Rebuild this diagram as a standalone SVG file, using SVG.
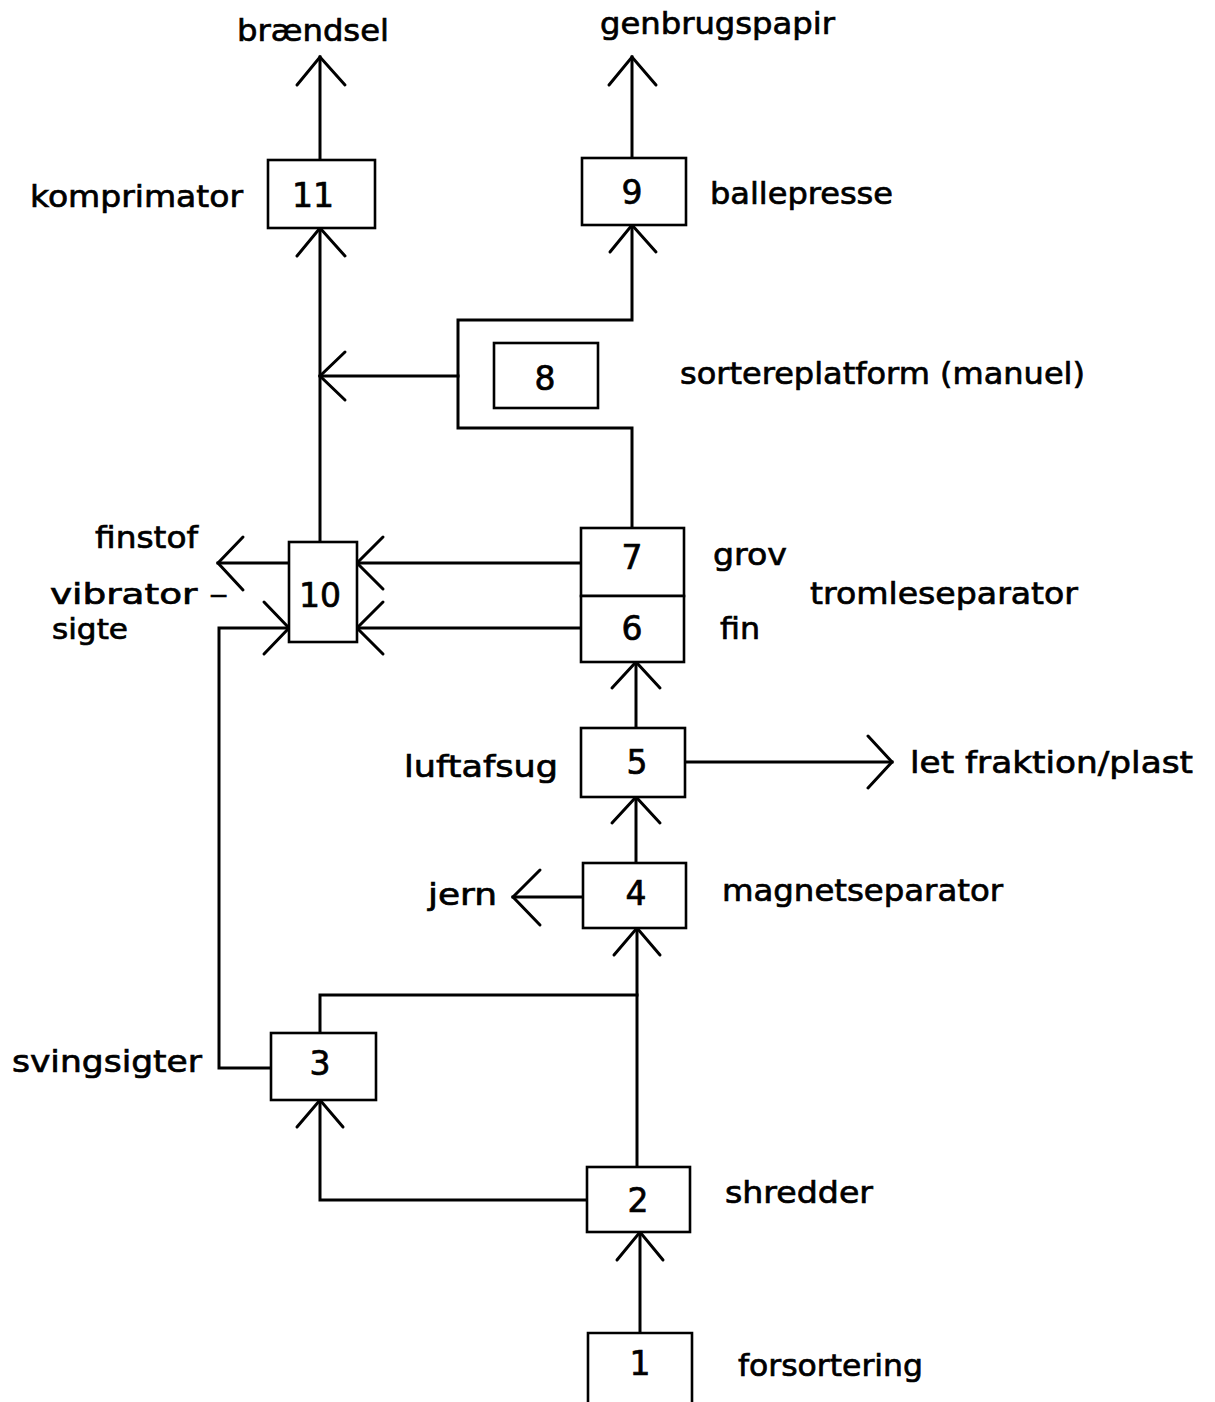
<svg xmlns="http://www.w3.org/2000/svg" width="1215" height="1402" viewBox="0 0 1215 1402">
<style>
.bg{fill:#fff}
.box{fill:#fff;stroke:#000;stroke-width:2.6}
.ln{fill:none;stroke:#000;stroke-width:3;stroke-linejoin:miter;stroke-linecap:square}
.ah{fill:none;stroke:#000;stroke-width:3;stroke-linejoin:miter;stroke-linecap:round}
text{font-family:"DejaVu Sans","Liberation Sans",sans-serif;font-size:31px;fill:#000;stroke:#000;stroke-width:0.7}
.num{text-anchor:middle;font-size:33px}
.sm{font-size:28px}
</style>
<rect class="bg" x="0" y="0" width="1215" height="1402"/>
<g id="connectors">
<path class="ln" d="M320,160 V57"/>
<path class="ah" d="M297,85 L320,57 L345,85"/>
<path class="ln" d="M632,158 V57"/>
<path class="ah" d="M609,85 L632,57 L656,85"/>
<path class="ln" d="M320,542 V228"/>
<path class="ah" d="M297,256 L320,228 L345,256"/>
<path class="ln" d="M632,528 V428 H458 V320 H632 V225"/>
<path class="ah" d="M610,252 L632,225 L656,252"/>
<path class="ln" d="M458,376 H320"/>
<path class="ah" d="M345,352 L320,376 L345,400"/>
<path class="ln" d="M581,563 H357"/>
<path class="ah" d="M383,537 L357,563 L383,589"/>
<path class="ln" d="M581,628 H357"/>
<path class="ah" d="M383,602 L357,628 L383,654"/>
<path class="ln" d="M289,563 H218"/>
<path class="ah" d="M243,537 L218,563 L243,590"/>
<path class="ln" d="M271,1068 H219 V628 H289"/>
<path class="ah" d="M264,602 L289,628 L264,654"/>
<path class="ln" d="M636,728 V662"/>
<path class="ah" d="M612,688 L636,662 L660,688"/>
<path class="ln" d="M685,762 H892"/>
<path class="ah" d="M868,736 L892,762 L868,788"/>
<path class="ln" d="M636,863 V797"/>
<path class="ah" d="M612,823 L636,797 L660,823"/>
<path class="ln" d="M583,897 H513"/>
<path class="ah" d="M540,870 L513,897 L540,925"/>
<path class="ln" d="M637,1167 V928"/>
<path class="ah" d="M614,955 L637,928 L660,955"/>
<path class="ln" d="M320,1033 V995 H637"/>
<path class="ln" d="M587,1200 H320 V1100"/>
<path class="ah" d="M297,1127 L320,1100 L343,1127"/>
<path class="ln" d="M640,1333 V1232"/>
<path class="ah" d="M617,1260 L640,1232 L663,1260"/>
</g>
<g id="node11"><rect class="box" x="268" y="160" width="107" height="68"/><text class="num" x="313" y="207">11</text></g>
<g id="node9"><rect class="box" x="582" y="158" width="104" height="67"/><text class="num" x="632" y="204">9</text></g>
<g id="node8"><rect class="box" x="494" y="343" width="104" height="65"/><text class="num" x="545" y="390">8</text></g>
<g id="node7"><rect class="box" x="581" y="528" width="103" height="68"/><text class="num" x="632" y="569">7</text></g>
<g id="node6"><rect class="box" x="581" y="596" width="103" height="66"/><text class="num" x="632" y="640">6</text></g>
<g id="node10"><rect class="box" x="289" y="542" width="68" height="100"/><text class="num" x="320" y="607">10</text></g>
<g id="node5"><rect class="box" x="581" y="728" width="104" height="69"/><text class="num" x="637" y="774">5</text></g>
<g id="node4"><rect class="box" x="583" y="863" width="103" height="65"/><text class="num" x="636" y="905">4</text></g>
<g id="node3"><rect class="box" x="271" y="1033" width="105" height="67"/><text class="num" x="320" y="1075">3</text></g>
<g id="node2"><rect class="box" x="587" y="1167" width="103" height="65"/><text class="num" x="638" y="1212">2</text></g>
<g id="node1"><path class="box" d="M588,1405 V1333 H692 V1405"/><text class="num" x="640" y="1375">1</text></g>
<g id="labels">
<text x="237" y="41" textLength="152" lengthAdjust="spacingAndGlyphs">brændsel</text>
<text x="600" y="34" textLength="235" lengthAdjust="spacingAndGlyphs">genbrugspapir</text>
<text x="30" y="207" textLength="213" lengthAdjust="spacingAndGlyphs">komprimator</text>
<text x="710" y="204" textLength="183" lengthAdjust="spacingAndGlyphs">ballepresse</text>
<text x="680" y="384" textLength="405" lengthAdjust="spacingAndGlyphs">sortereplatform (manuel)</text>
<text x="95" y="548" textLength="103" lengthAdjust="spacingAndGlyphs">finstof</text>
<text x="713" y="565" textLength="74" lengthAdjust="spacingAndGlyphs">grov</text>
<text class="sm" x="50" y="604" textLength="178" lengthAdjust="spacingAndGlyphs">vibrator –</text>
<text x="810" y="604" textLength="268" lengthAdjust="spacingAndGlyphs">tromleseparator</text>
<text class="sm" x="52" y="639" textLength="76" lengthAdjust="spacingAndGlyphs">sigte</text>
<text x="720" y="639" textLength="40" lengthAdjust="spacingAndGlyphs">fin</text>
<text x="404" y="777" textLength="154" lengthAdjust="spacingAndGlyphs">luftafsug</text>
<text x="910" y="773" textLength="283" lengthAdjust="spacingAndGlyphs">let fraktion/plast</text>
<text x="428" y="905" textLength="69" lengthAdjust="spacingAndGlyphs">jern</text>
<text x="722" y="901" textLength="281" lengthAdjust="spacingAndGlyphs">magnetseparator</text>
<text x="12" y="1072" textLength="190" lengthAdjust="spacingAndGlyphs">svingsigter</text>
<text x="725" y="1203" textLength="148" lengthAdjust="spacingAndGlyphs">shredder</text>
<text x="738" y="1376" textLength="185" lengthAdjust="spacingAndGlyphs">forsortering</text>
</g>
</svg>
